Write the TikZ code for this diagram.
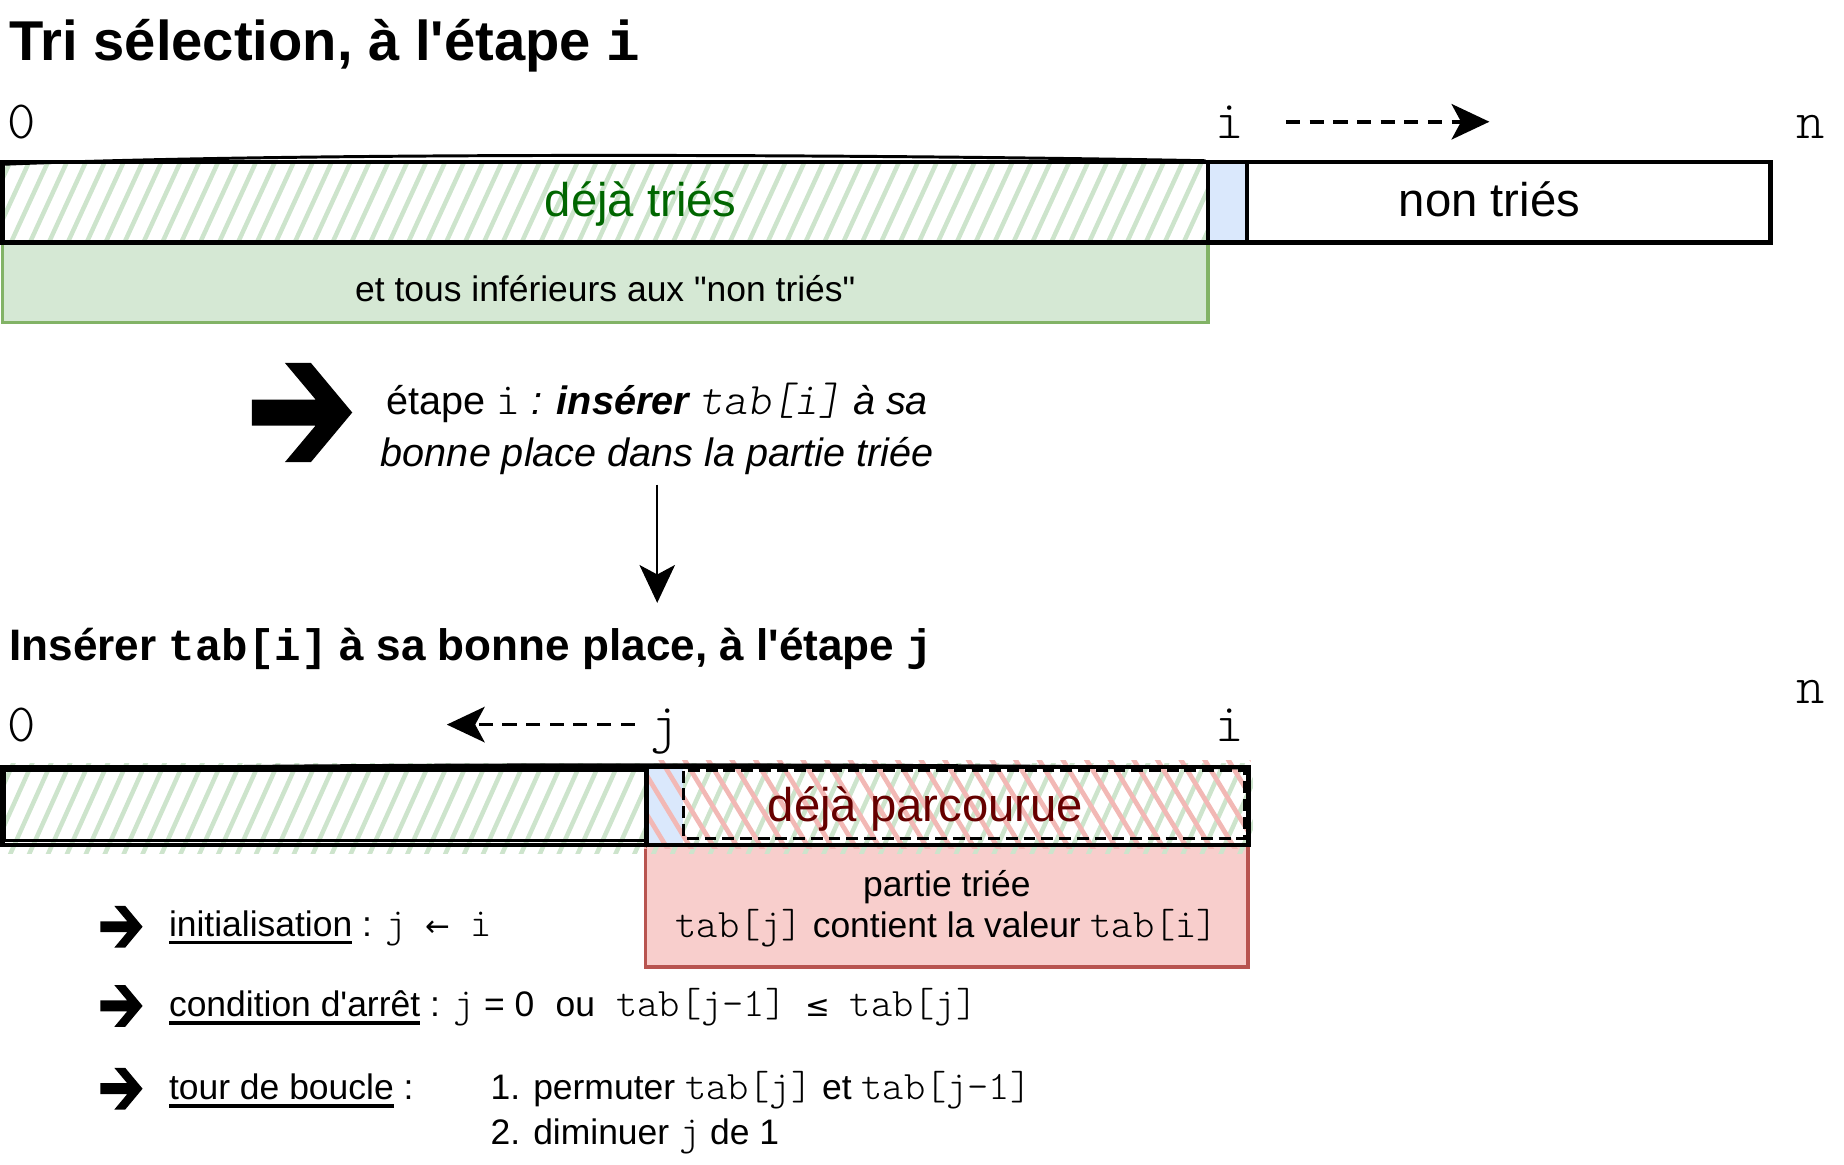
\documentclass[tikz,border=0pt]{standalone}
\usepackage{fontspec}
\setmainfont{Liberation Sans}[Ligatures=TeXOff]
\setmonofont{lmmonolt10-regular.otf}[Scale=1.14,ItalicFont=lmmonolt10-oblique.otf,BoldFont=lmmonolt10-bold.otf]
\newfontfamily\monob{Liberation Mono}
\newfontfamily\symf{DejaVu Sans}
\usetikzlibrary{arrows.meta}
\definecolor{gfill}{HTML}{D5E8D4}
\definecolor{gline}{HTML}{82B366}
\definecolor{ghatch}{HTML}{CDE4CC}
\definecolor{bfill}{HTML}{DAE8FC}
\definecolor{rfill}{HTML}{F8CECC}
\definecolor{rline}{HTML}{B85450}
\definecolor{rhatch}{HTML}{F2B8B5}
\definecolor{dgreen}{HTML}{006600}
\definecolor{dred}{HTML}{660000}
\newsavebox\ulbox
\newcommand\ul[1]{\sbox\ulbox{#1}\rlap{\rule[-7pt]{\wd\ulbox}{3pt}}\usebox\ulbox}
\newcommand\sym[1]{\makebox[18pt]{\symf\fontsize{25}{25}\selectfont #1}}
\begin{document}
\begin{tikzpicture}[x=1pt,y=-1pt,
  txt/.style={inner sep=0pt,outer sep=0pt},
  idx/.style={txt,anchor=base,font=\fontsize{40}{40}\selectfont\ttfamily},
  body/.style={txt,font=\fontsize{30}{36}\selectfont},
  big/.style={txt,anchor=base,font=\fontsize{40}{48}\selectfont},
  etp/.style={txt,anchor=base,font=\fontsize{33.5}{40}\selectfont},
  ttla/.style={txt,anchor=base west,font=\bfseries\fontsize{47.5}{56}\selectfont},
  ttlb/.style={txt,anchor=base west,font=\bfseries\fontsize{37.3}{46}\selectfont},
  bar/.style={draw=black,line width=3.8pt},
  hatchg/.style={draw=ghatch,line width=3.8pt},
  hatchr/.style={draw=rhatch,line width=4pt},
  dasharrow/.style={line width=3pt,dash pattern=on 12pt off 8pt,-{Stealth[length=32pt,width=30pt,inset=8pt]}},
  fatarr/.pic={\fill[black] (-43,-11) -- (11,-11) -- (-15,-42) -- (7,-42) -- (42,0) -- (7,42) -- (-15,42) -- (11,11) -- (-43,11) -- cycle;}
]
\useasboundingbox (0,0) rectangle (1560,985);

% ---------- top part ----------
\node[ttla] (t1) at (8,51) {Tri sélection, à l'étape {\monob\bfseries i}};

\node[idx] (i0) at (18.5,117) {0};
\node[idx] (ii) at (1040,117) {i};
\node[idx] (in) at (1532,117) {n};
\coordinate (a1s) at (1088,103);
\coordinate (a1e) at (1260,103);
\draw[dasharrow] (a1s) -- (a1e);

% green box below
\fill[gfill] (2,205) rectangle (1022,273);
\draw[gline,line width=3pt] (2,205) rectangle (1022,273);
\node[body,anchor=base] (gt) at (512,255) {et tous inférieurs aux "non triés"};

% hatched sorted part
\begin{scope}
  \clip (2,137) rectangle (1022,205);
  \foreach \k in {0,...,67} \draw[hatchg] ({-40+16*\k},208) -- ({-6+16*\k},134);
\end{scope}
\fill[bfill] (1022,137) rectangle (1055,205);
\draw[bar] (2,137) rectangle (1022,205);
\draw[line width=2.5pt] (2,139) .. controls (250,129) and (700,130) .. (1020,136);
\draw[bar] (1022,137) rectangle (1055,205);
\draw[bar] (1055,137) rectangle (1498,205);
\node[big,text=dgreen] (dt) at (542,183) {déjà triés};
\node[big] (nt) at (1260,183) {non triés};

% ---------- step text ----------
\pic at (256,349) {fatarr};
\node[etp] (e1) at (556,351) {étape \texttt{i} \textit{: \textbf{insérer} \texttt{tab[i]} à sa}};
\node[etp] (e2) at (556,395) {\textit{bonne place dans la partie triée}};
\coordinate (vend) at (556,510);
\draw[line width=2pt,-{Stealth[length=32pt,width=30pt,inset=8pt]}] ([yshift=-8pt]e2.south) -- (vend);

% ---------- bottom part ----------
\node[ttlb] (t2) at (8,559) {Insérer {\monob\bfseries tab[i]} à sa bonne place, à l'étape {\monob\bfseries j}};

\node[idx] (b0) at (18.5,627) {0};
\node[idx] (bj) at (562,627) {j};
\node[idx] (bi) at (1040,627) {i};
\node[idx] (bn) at (1532,595) {n};
\coordinate (a2s) at (537,613);
\coordinate (a2e) at (378,613);
\draw[dasharrow] (a2s) -- (a2e);

% pink box
\fill[rfill] (546,715) rectangle (1056,818);
\draw[rline,line width=3pt] (546,715) rectangle (1056,818);
\node[body,anchor=base] (p1) at (801,758) {partie triée};
\node[body,anchor=base] (p2) at (801,793) {\texttt{tab[j]} contient la valeur \texttt{tab[i]}};

% bar hatches
\begin{scope}
  \clip (2,646) rectangle (1060,722);
  \foreach \k in {0,...,70} \draw[hatchg] ({-40+16*\k},724) -- ({-4+16*\k},644);
\end{scope}
\fill[bfill] (547,650) rectangle (578,715);
\begin{scope}
  \clip (545,643) rectangle (1058,718);
  \foreach \k in {0,...,28} \draw[hatchr] ({498+20*\k},641) -- ({546+20*\k},720);
\end{scope}
\draw[line width=2.5pt] (4,652) rectangle (547,711);
\draw[line width=2.5pt,dash pattern=on 10pt off 5pt] (578,652) rectangle (1053,709);
\draw[bar] (2,649) rectangle (1056,715);
\draw[bar] (547,649) -- (547,715);
\draw[line width=2pt] (4,651) .. controls (300,645) and (800,646) .. (1054,650);
\node[big,text=dred] (dp) at (783,695) {déjà parcourue};

% ---------- bullet rows ----------
\pic[scale=0.42] at (103,784) {fatarr};
\pic[scale=0.42] at (103,851) {fatarr};
\pic[scale=0.42] at (103,921) {fatarr};
\node[body,anchor=base west] (r1) at (143,792) {\ul{initialisation} : \texttt{j }\sym{←}\texttt{ i}};
\node[body,anchor=base west] (r2) at (143,860) {\ul{condition d'arrêt} : \texttt{j} = 0\hspace{18pt}ou\hspace{18pt}\texttt{tab[j-1] }\sym{≤}\texttt{ tab[j]}};
\node[body,anchor=base west] (r3) at (143,930) {\ul{tour de boucle} :};
\node[body,anchor=base west] (r4) at (415,930) {1. permuter \texttt{tab[j]} et \texttt{tab[j-1]}};
\node[body,anchor=base west] (r5) at (415,968) {2. diminuer \texttt{j} de 1};
\end{tikzpicture}
\end{document}
